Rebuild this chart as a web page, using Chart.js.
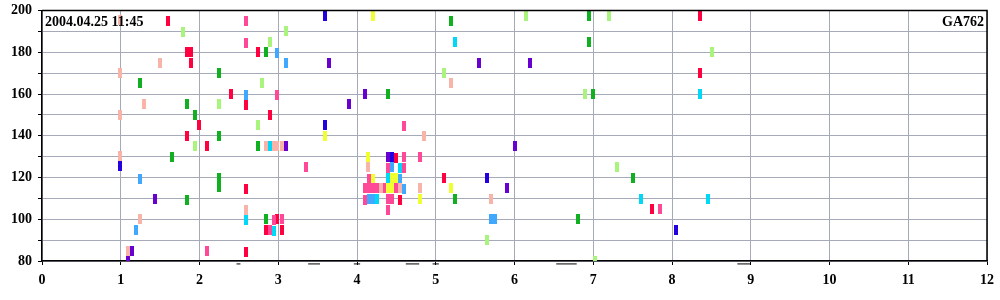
<!DOCTYPE html>
<html>
<head>
<meta charset="utf-8">
<script src="https://cdn.jsdelivr.net/npm/chart.js@4"></script>
<style>
html,body{margin:0;padding:0;background:#fff;}
#wrap{width:1000px;height:300px;}
</style>
</head>
<body>
<div id="wrap"><canvas id="c" width="1000" height="300"></canvas></div>
<script>
// ---- data ----
const stampLabel = '2004.04.25 11:45';
const flightLabel = 'GA762';
const xTicks = [0,1,2,3,4,5,6,7,8,9,10,11,12];
const yTickLabels = [80,100,120,140,160,180,200];

const red = [[1.60,195.1],[1.84,180.2],[1.89,180.2],[2.74,180.2],[1.89,175.0],[2.40,160.0],[2.59,154.9],[2.89,150.0],[1.99,145.3],[1.84,140.0],[2.09,135.2],[2.59,114.7],[2.99,100.3],[2.84,95.0],[3.05,95.0],[2.59,84.5],[4.49,129.5],[4.54,109.4],[5.10,119.9],[7.75,105.0],[8.36,197.5],[8.36,170.2]];
const hotPink = [[2.59,195.1],[2.59,184.6],[2.99,159.6],[3.35,125.2],[2.94,99.8],[3.05,100.3],[2.89,95.0],[2.09,84.9],[4.60,144.8],[4.60,130.0],[4.80,130.0],[4.39,124.7],[4.60,124.7],[4.15,119.4],[4.10,115.1],[4.15,115.1],[4.20,115.1],[4.25,115.1],[4.34,115.1],[4.49,115.1],[4.10,109.4],[4.39,109.8],[4.44,109.8],[4.39,104.6],[7.85,105.0]];
const salmon = [[0.99,195.4],[1.50,175.0],[0.99,170.2],[1.29,155.3],[0.99,150.0],[2.84,135.2],[2.94,135.2],[2.99,135.2],[3.05,135.2],[0.99,130.1],[2.59,104.6],[1.24,100.3],[1.09,84.9],[5.19,165.4],[4.85,139.9],[5.70,109.8],[4.14,125.2],[4.30,115.1],[4.54,115.1],[4.80,114.9]];
const lightGreen = [[1.79,189.8],[3.10,190.3],[2.89,185.0],[2.79,165.4],[2.25,155.3],[2.74,145.3],[1.94,135.2],[5.10,170.2],[6.15,197.5],[7.20,197.5],[6.90,160.0],[8.51,180.2],[5.65,90.2],[7.30,125.2],[7.02,80.0]];
const green = [[2.84,180.2],[2.25,170.2],[1.24,165.4],[1.84,155.3],[1.94,150.0],[2.25,140.0],[2.74,135.2],[1.65,130.0],[2.25,119.9],[2.25,115.3],[1.84,109.4],[2.84,100.3],[5.19,195.1],[6.95,197.5],[6.95,185.0],[4.39,160.0],[7.00,160.0],[5.24,109.8],[6.81,100.3],[7.50,119.9]];
const blue = [[3.59,197.5],[3.59,145.3],[0.99,125.3],[4.44,130.0],[5.65,119.9],[8.05,95.0]];
const violet = [[3.64,175.0],[3.10,135.2],[1.44,109.8],[1.14,84.9],[1.09,80.0],[5.55,175.0],[6.20,175.0],[4.10,160.0],[3.90,155.3],[6.01,135.2],[4.39,130.0],[5.90,115.1]];
const skyBlue = [[2.99,179.8],[3.10,175.0],[2.59,159.6],[1.24,119.4],[1.19,95.0],[4.44,125.2],[4.54,119.4],[4.60,114.7],[4.15,109.8],[4.20,109.6],[5.70,100.3],[5.75,100.3]];
const cyan = [[5.24,185.0],[2.89,135.2],[2.59,99.8],[2.94,94.5],[4.54,124.7],[4.39,119.9],[4.25,109.5],[7.61,109.8],[8.46,109.8],[8.36,160.0]];
const yellow = [[3.59,140.0],[4.20,197.5],[4.14,130.0],[4.20,119.4],[4.39,115.1],[4.44,115.1],[4.44,119.9],[4.49,119.9],[4.80,109.6],[5.19,115.1]];
// short marks just under the axis: [start, end] along x, at level markLevel
const markSpans = [[2.47,2.52],[3.38,3.53],[3.96,4.04],[4.62,4.79],[4.96,5.04],[6.53,6.79],[8.83,8.99]];
const markLevel = 78.6;

// ---- styling ----
const FONT = "'Liberation Serif', 'Times New Roman', serif";
function rectStyle(color){
  const cv = document.createElement('canvas');
  cv.width = 4; cv.height = 10;
  const g = cv.getContext('2d');
  g.fillStyle = color; g.fillRect(0,0,4,10);
  return cv;
}
function toPts(arr){ return arr.map(p => ({x:p[0], y:p[1]})); }
function series(label, arr, color){
  return {label, data: toPts(arr), pointStyle: rectStyle(color), pointRadius: 3, pointHoverRadius: 3, showLine: false, backgroundColor: color, borderColor: color};
}
const markData = [];
markSpans.forEach(s => { markData.push({x:s[0], y:markLevel}); markData.push({x:s[1], y:markLevel}); markData.push({x:s[1]+0.001, y:null}); });

const datasets = [
  series('salmon', salmon, '#f8b4a8'),
  series('lightGreen', lightGreen, '#a8f47c'),
  series('green', green, '#10b020'),
  series('hotPink', hotPink, '#ff4898'),
  series('red', red, '#ff0040'),
  series('skyBlue', skyBlue, '#40a8ff'),
  series('cyan', cyan, '#00d8f8'),
  series('yellow', yellow, '#f0ff30'),
  series('violet', violet, '#6800d0'),
  series('blue', blue, '#2400e0'),
  {label:'marks', type:'line', data: markData, showLine: true, spanGaps: false, borderColor:'#000', borderWidth:1, pointRadius:0, clip:false}
];

const framePlugin = {
  id: 'frame',
  afterDraw(chart){
    const a = chart.chartArea, ctx = chart.ctx;
    ctx.save();
    ctx.strokeStyle = '#000'; ctx.lineWidth = 1.5;
    ctx.beginPath();
    ctx.moveTo(a.left, a.top); ctx.lineTo(a.right, a.top); ctx.lineTo(a.right, a.bottom);
    ctx.stroke();
    ctx.fillStyle = '#000';
    ctx.font = 'bold 14px ' + FONT;
    ctx.textBaseline = 'alphabetic';
    ctx.textAlign = 'left';
    ctx.fillText(stampLabel, a.left + 3, a.top + 15);
    ctx.textAlign = 'right';
    ctx.fillText(flightLabel, a.right - 3, a.top + 15);
    ctx.restore();
  }
};

new Chart(document.getElementById('c'), {
  type: 'scatter',
  data: { datasets },
  plugins: [framePlugin],
  options: {
    responsive: false,
    animation: false,
    events: [],
    layout: { padding: { top: 10.5, right: 13, left: 0, bottom: 0 } },
    plugins: { legend: { display: false }, tooltip: { enabled: false } },
    scales: {
      x: {
        type: 'linear', min: 0, max: 12,
        afterFit(s){ s.height = 39; s.paddingLeft = 0; s.paddingRight = 0; },
        afterBuildTicks(s){ s.ticks = xTicks.map(v => ({value: v})); },
        ticks: { color: '#000', font: { family: FONT, size: 14, weight: 'bold' }, padding: 7, maxRotation: 0 },
        grid: { color: '#a6a9b8', lineWidth: 1, tickColor: '#000', tickLength: 4 },
        border: { color: '#000', width: 1.5 }
      },
      y: {
        type: 'linear', min: 80, max: 200,
        afterFit(s){ s.width = 42; s.paddingTop = 0; s.paddingBottom = 0; },
        ticks: { stepSize: 10, color: '#000', font: { family: FONT, size: 14, weight: 'bold' }, padding: 6,
          callback: v => yTickLabels.includes(v) ? String(v) : '' },
        grid: { color: '#a6a9b8', lineWidth: 1, tickColor: '#000', tickLength: 4 },
        border: { color: '#000', width: 1.5 }
      }
    }
  }
});
</script>
</body>
</html>
